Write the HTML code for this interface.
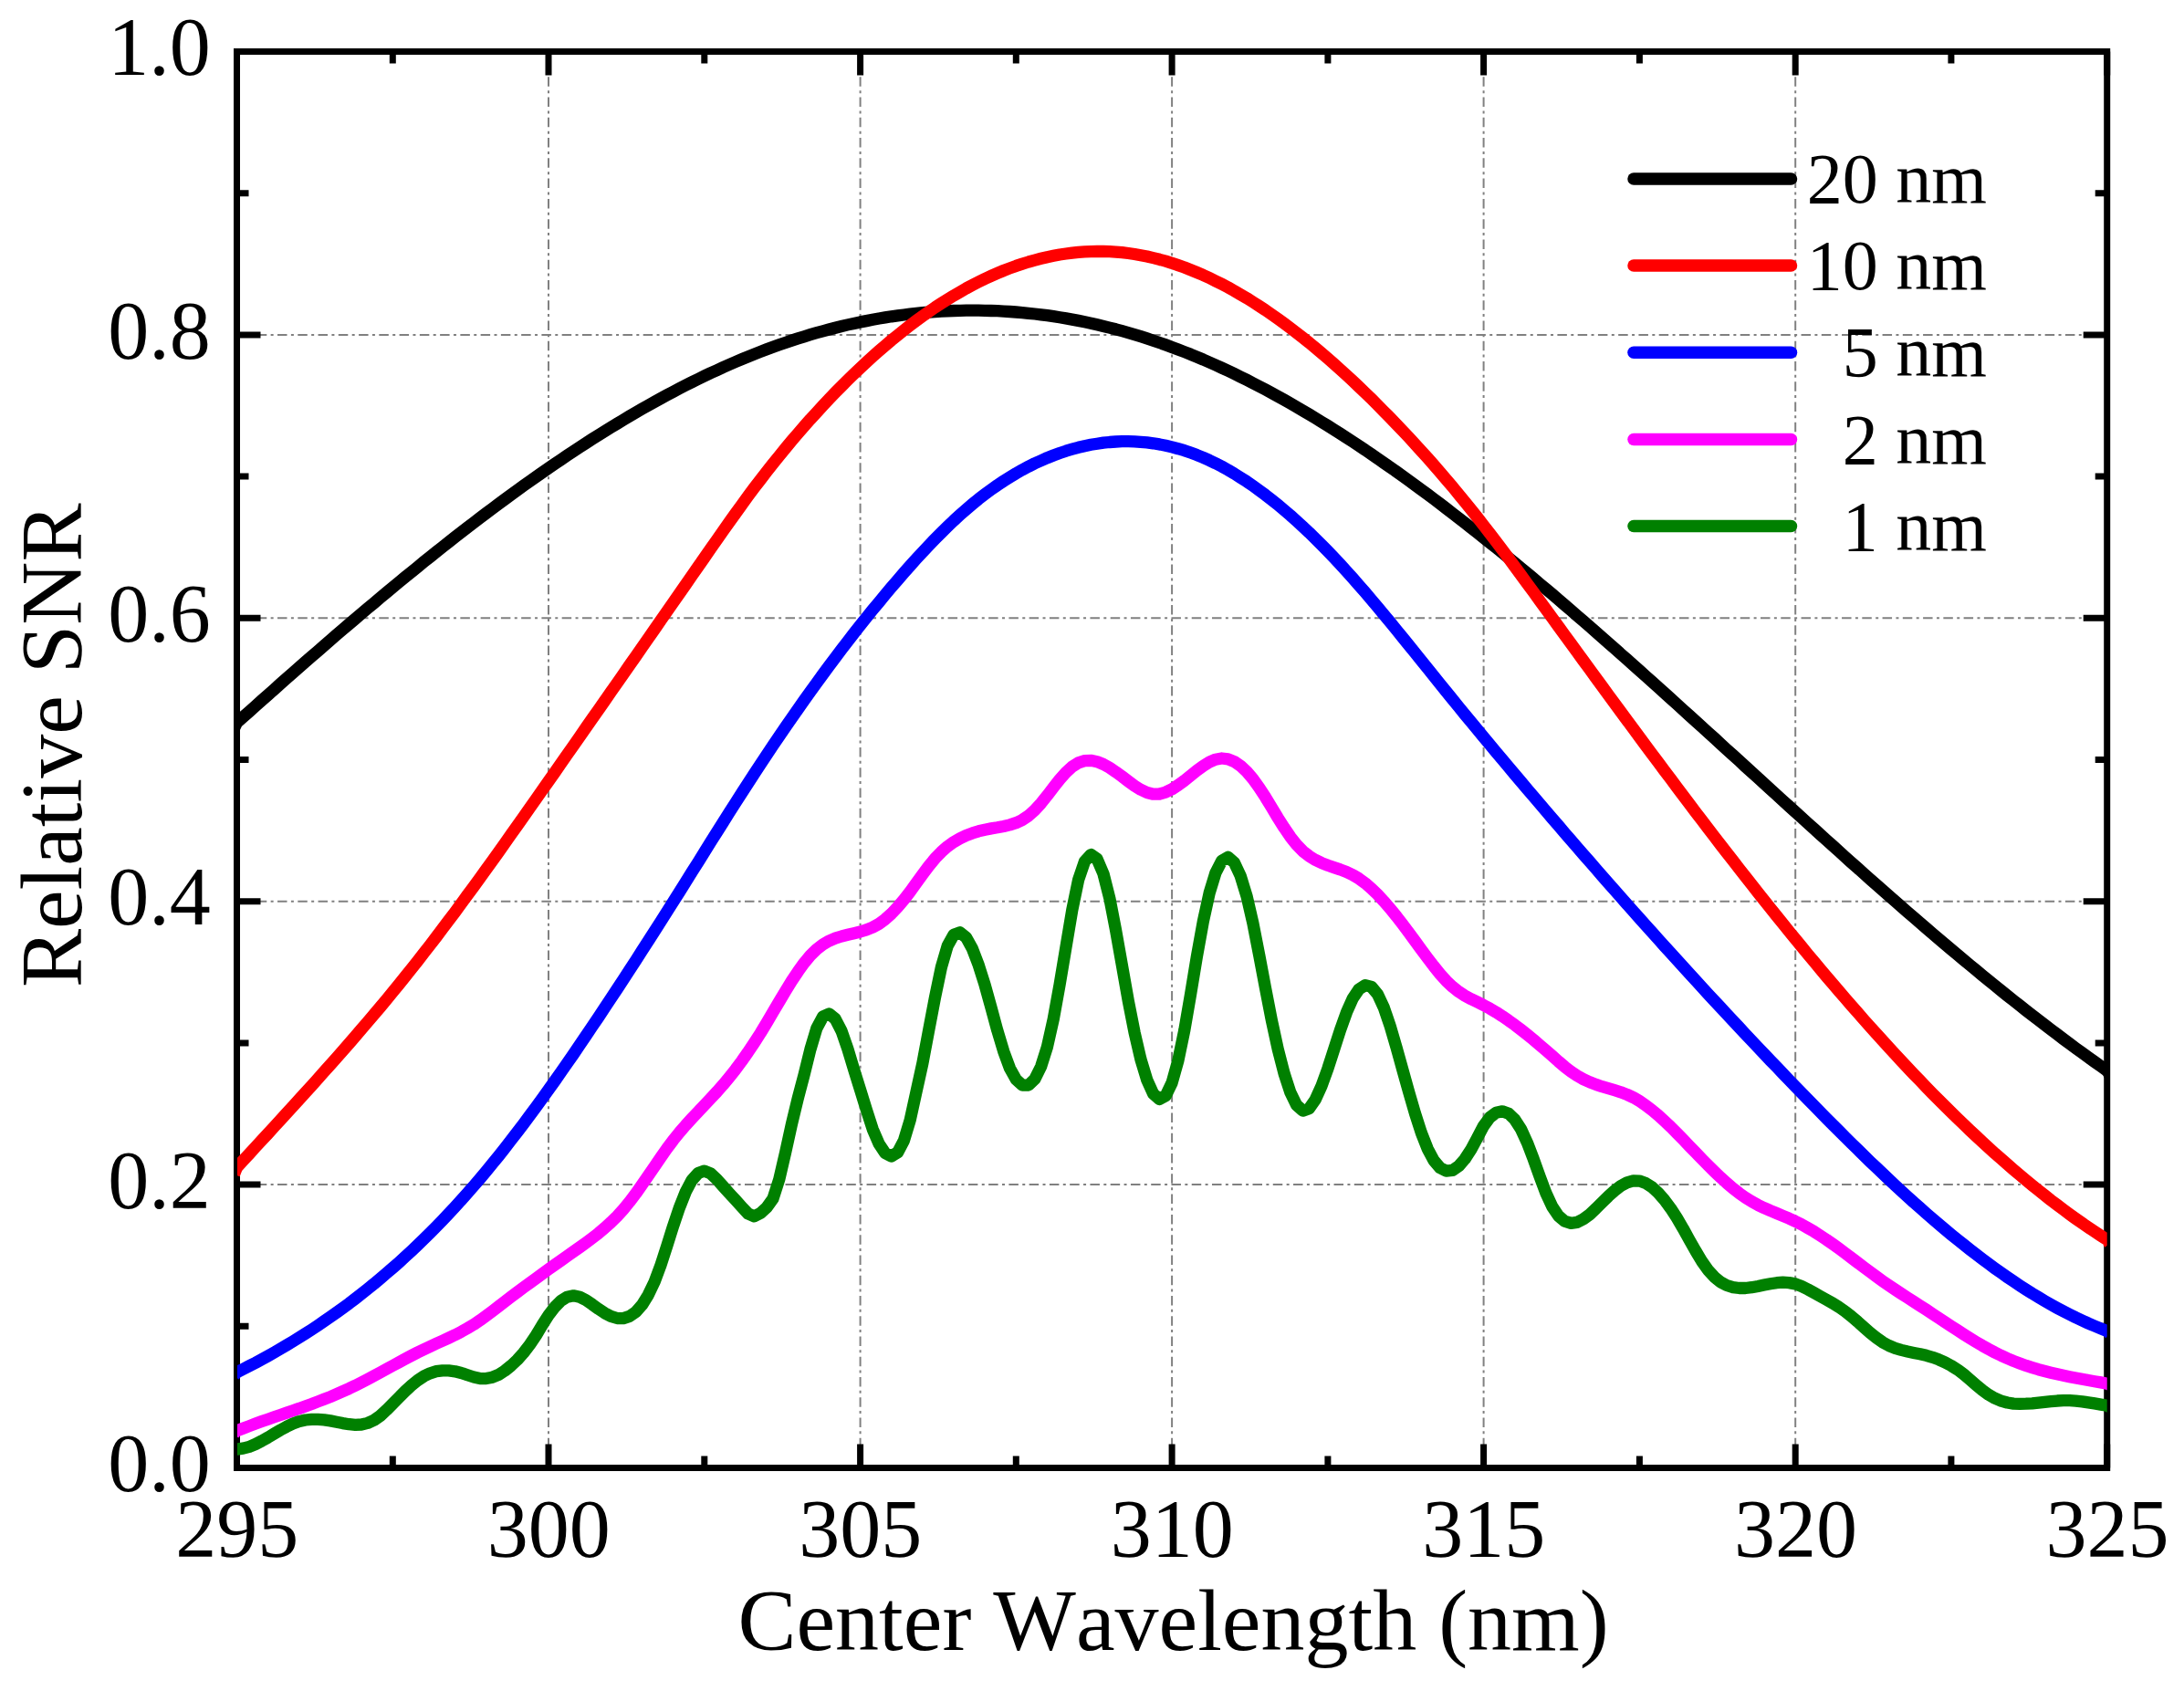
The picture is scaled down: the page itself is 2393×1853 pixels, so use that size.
<!DOCTYPE html>
<html lang="en"><head><meta charset="utf-8"><title>Relative SNR vs Center Wavelength</title>
<style>
html,body{margin:0;padding:0;background:#fff;}
body{width:2393px;height:1853px;overflow:hidden;}
svg{display:block;}
text{font-family:"Liberation Serif","Times New Roman",serif;fill:#000;}
.tk{font-size:90px;}
.ti{font-size:96px;font-kerning:none;}
.lg{font-size:78px;}
</style></head><body>
<svg width="2393" height="1853" viewBox="0 0 2393 1853">
<rect x="0" y="0" width="2393" height="1853" fill="#ffffff"/>

<g stroke="#808080" stroke-width="2" fill="none" stroke-dasharray="10.5 4.38 3 4.38">
<path d="M259.5 1298.1 H2308.7"/>
<path d="M259.5 987.7 H2308.7"/>
<path d="M259.5 677.3 H2308.7"/>
<path d="M259.5 366.9 H2308.7"/>
<path d="M601.0 1608.5 V56.5"/>
<path d="M942.6 1608.5 V56.5"/>
<path d="M1284.1 1608.5 V56.5"/>
<path d="M1625.6 1608.5 V56.5"/>
<path d="M1967.2 1608.5 V56.5"/>
</g>
<g stroke="#000" stroke-width="7.0" fill="none" stroke-linecap="butt">
<rect x="259.5" y="56.5" width="2049.2" height="1552.0"/>
<path d="M259.5 1608.5 v-26 M259.5 56.5 v26 M601.0 1608.5 v-26 M601.0 56.5 v26 M942.6 1608.5 v-26 M942.6 56.5 v26 M1284.1 1608.5 v-26 M1284.1 56.5 v26 M1625.6 1608.5 v-26 M1625.6 56.5 v26 M1967.2 1608.5 v-26 M1967.2 56.5 v26 M2308.7 1608.5 v-26 M2308.7 56.5 v26 M430.3 1608.5 v-13 M430.3 56.5 v13 M771.8 1608.5 v-13 M771.8 56.5 v13 M1113.3 1608.5 v-13 M1113.3 56.5 v13 M1454.9 1608.5 v-13 M1454.9 56.5 v13 M1796.4 1608.5 v-13 M1796.4 56.5 v13 M2137.9 1608.5 v-13 M2137.9 56.5 v13 M259.5 1608.5 h26 M2308.7 1608.5 h-26 M259.5 1453.3 h13 M2308.7 1453.3 h-13 M259.5 1298.1 h26 M2308.7 1298.1 h-26 M259.5 1142.9 h13 M2308.7 1142.9 h-13 M259.5 987.7 h26 M2308.7 987.7 h-26 M259.5 832.5 h13 M2308.7 832.5 h-13 M259.5 677.3 h26 M2308.7 677.3 h-26 M259.5 522.1 h13 M2308.7 522.1 h-13 M259.5 366.9 h26 M2308.7 366.9 h-26 M259.5 211.7 h13 M2308.7 211.7 h-13 M259.5 56.5 h26 M2308.7 56.5 h-26"/>
</g>
<defs><clipPath id="cp"><rect x="260.0" y="0" width="2048.7" height="1853"/></clipPath></defs>
<g clip-path="url(#cp)" fill="none" stroke-width="13.3" stroke-linejoin="round" stroke-linecap="butt">
<path stroke="#000000" d="M256.5 798.0 L259.5 791.9 L266.3 785.8 L273.2 779.7 L280.0 773.6 L286.8 767.5 L293.7 761.4 L300.5 755.4 L307.3 749.3 L314.1 743.3 L321.0 737.3 L327.8 731.3 L334.6 725.3 L341.5 719.3 L348.3 713.4 L355.1 707.4 L362.0 701.5 L368.8 695.6 L375.6 689.8 L382.5 683.9 L389.3 678.1 L396.1 672.3 L402.9 666.5 L409.8 660.8 L416.6 655.0 L423.4 649.3 L430.3 643.7 L437.1 638.0 L443.9 632.4 L450.8 626.8 L457.6 621.3 L464.4 615.7 L471.3 610.2 L478.1 604.8 L484.9 599.4 L491.7 594.0 L498.6 588.6 L505.4 583.3 L512.2 578.0 L519.1 572.8 L525.9 567.5 L532.7 562.4 L539.6 557.2 L546.4 552.2 L553.2 547.1 L560.0 542.1 L566.9 537.1 L573.7 532.2 L580.5 527.3 L587.4 522.5 L594.2 517.7 L601.0 513.0 L607.9 508.3 L614.7 503.7 L621.5 499.1 L628.4 494.5 L635.2 490.0 L642.0 485.6 L648.8 481.2 L655.7 476.9 L662.5 472.6 L669.3 468.4 L676.2 464.2 L683.0 460.1 L689.8 456.0 L696.7 452.0 L703.5 448.1 L710.3 444.2 L717.2 440.4 L724.0 436.6 L730.8 432.9 L737.6 429.3 L744.5 425.7 L751.3 422.2 L758.1 418.8 L765.0 415.4 L771.8 412.1 L778.6 408.8 L785.5 405.7 L792.3 402.5 L799.1 399.5 L806.0 396.5 L812.8 393.6 L819.6 390.8 L826.4 388.1 L833.3 385.4 L840.1 382.8 L846.9 380.3 L853.8 377.8 L860.6 375.4 L867.4 373.1 L874.3 370.9 L881.1 368.8 L887.9 366.7 L894.8 364.7 L901.6 362.8 L908.4 361.0 L915.2 359.2 L922.1 357.5 L928.9 355.9 L935.7 354.4 L942.6 352.9 L949.4 351.6 L956.2 350.3 L963.1 349.0 L969.9 347.9 L976.7 346.8 L983.6 345.9 L990.4 345.0 L997.2 344.1 L1004.0 343.4 L1010.9 342.7 L1017.7 342.1 L1024.5 341.6 L1031.4 341.2 L1038.2 340.8 L1045.0 340.5 L1051.9 340.3 L1058.7 340.2 L1065.5 340.1 L1072.3 340.2 L1079.2 340.3 L1086.0 340.5 L1092.8 340.7 L1099.7 341.1 L1106.5 341.5 L1113.3 342.0 L1120.2 342.6 L1127.0 343.3 L1133.8 344.0 L1140.7 344.8 L1147.5 345.7 L1154.3 346.7 L1161.1 347.8 L1168.0 348.9 L1174.8 350.1 L1181.6 351.4 L1188.5 352.8 L1195.3 354.2 L1202.1 355.8 L1209.0 357.4 L1215.8 359.1 L1222.6 360.8 L1229.5 362.7 L1236.3 364.6 L1243.1 366.6 L1249.9 368.7 L1256.8 370.9 L1263.6 373.2 L1270.4 375.5 L1277.3 377.9 L1284.1 380.4 L1290.9 383.0 L1297.8 385.6 L1304.6 388.3 L1311.4 391.2 L1318.3 394.0 L1325.1 397.0 L1331.9 400.0 L1338.7 403.1 L1345.6 406.3 L1352.4 409.6 L1359.2 412.9 L1366.1 416.3 L1372.9 419.8 L1379.7 423.3 L1386.6 426.9 L1393.4 430.6 L1400.2 434.3 L1407.1 438.1 L1413.9 442.0 L1420.7 445.9 L1427.5 449.9 L1434.4 454.0 L1441.2 458.1 L1448.0 462.3 L1454.9 466.5 L1461.7 470.8 L1468.5 475.2 L1475.4 479.6 L1482.2 484.0 L1489.0 488.6 L1495.9 493.1 L1502.7 497.8 L1509.5 502.4 L1516.3 507.2 L1523.2 512.0 L1530.0 516.8 L1536.8 521.7 L1543.7 526.6 L1550.5 531.6 L1557.3 536.6 L1564.2 541.7 L1571.0 546.8 L1577.8 551.9 L1584.6 557.1 L1591.5 562.4 L1598.3 567.7 L1605.1 573.0 L1612.0 578.4 L1618.8 583.8 L1625.6 589.2 L1632.5 594.7 L1639.3 600.2 L1646.1 605.7 L1653.0 611.3 L1659.8 616.9 L1666.6 622.6 L1673.4 628.2 L1680.3 633.9 L1687.1 639.7 L1693.9 645.4 L1700.8 651.2 L1707.6 657.1 L1714.4 662.9 L1721.3 668.8 L1728.1 674.7 L1734.9 680.6 L1741.8 686.5 L1748.6 692.5 L1755.4 698.5 L1762.2 704.5 L1769.1 710.5 L1775.9 716.6 L1782.7 722.6 L1789.6 728.7 L1796.4 734.8 L1803.2 740.9 L1810.1 747.0 L1816.9 753.2 L1823.7 759.3 L1830.6 765.5 L1837.4 771.6 L1844.2 777.8 L1851.0 784.0 L1857.9 790.2 L1864.7 796.4 L1871.5 802.6 L1878.4 808.8 L1885.2 815.1 L1892.0 821.3 L1898.9 827.5 L1905.7 833.7 L1912.5 840.0 L1919.4 846.2 L1926.2 852.4 L1933.0 858.7 L1939.8 864.9 L1946.7 871.1 L1953.5 877.3 L1960.3 883.5 L1967.2 889.7 L1974.0 895.9 L1980.8 902.1 L1987.7 908.3 L1994.5 914.5 L2001.3 920.6 L2008.2 926.8 L2015.0 932.9 L2021.8 939.1 L2028.6 945.2 L2035.5 951.3 L2042.3 957.4 L2049.1 963.4 L2056.0 969.5 L2062.8 975.5 L2069.6 981.5 L2076.5 987.5 L2083.3 993.5 L2090.1 999.4 L2096.9 1005.3 L2103.8 1011.3 L2110.6 1017.1 L2117.4 1023.0 L2124.3 1028.8 L2131.1 1034.6 L2137.9 1040.4 L2144.8 1046.1 L2151.6 1051.8 L2158.4 1057.5 L2165.3 1063.2 L2172.1 1068.8 L2178.9 1074.4 L2185.7 1079.9 L2192.6 1085.5 L2199.4 1091.0 L2206.2 1096.4 L2213.1 1101.8 L2219.9 1107.2 L2226.7 1112.5 L2233.6 1117.8 L2240.4 1123.1 L2247.2 1128.3 L2254.1 1133.4 L2260.9 1138.6 L2267.7 1143.6 L2274.5 1148.7 L2281.4 1153.7 L2288.2 1158.6 L2295.0 1163.5 L2301.9 1168.4 L2308.7 1173.2 L2311.7 1177.9"/>
<path stroke="#ff0000" d="M256.5 1286.8 L259.5 1279.3 L266.3 1271.8 L273.2 1264.4 L280.0 1256.9 L286.8 1249.5 L293.7 1242.1 L300.5 1234.6 L307.3 1227.2 L314.1 1219.7 L321.0 1212.2 L327.8 1204.7 L334.6 1197.2 L341.5 1189.7 L348.3 1182.1 L355.1 1174.4 L362.0 1166.8 L368.8 1159.1 L375.6 1151.3 L382.5 1143.5 L389.3 1135.6 L396.1 1127.7 L402.9 1119.7 L409.8 1111.7 L416.6 1103.6 L423.4 1095.4 L430.3 1087.1 L437.1 1078.7 L443.9 1070.3 L450.8 1061.7 L457.6 1053.1 L464.4 1044.3 L471.3 1035.5 L478.1 1026.6 L484.9 1017.6 L491.7 1008.5 L498.6 999.4 L505.4 990.1 L512.2 980.8 L519.1 971.5 L525.9 962.1 L532.7 952.6 L539.6 943.1 L546.4 933.6 L553.2 924.0 L560.0 914.3 L566.9 904.7 L573.7 895.0 L580.5 885.3 L587.4 875.5 L594.2 865.8 L601.0 856.1 L607.9 846.3 L614.7 836.5 L621.5 826.8 L628.4 817.0 L635.2 807.2 L642.0 797.4 L648.8 787.6 L655.7 777.9 L662.5 768.1 L669.3 758.3 L676.2 748.5 L683.0 738.7 L689.8 728.9 L696.7 719.1 L703.5 709.3 L710.3 699.5 L717.2 689.6 L724.0 679.8 L730.8 670.0 L737.6 660.2 L744.5 650.4 L751.3 640.6 L758.1 630.8 L765.0 620.9 L771.8 611.1 L778.6 601.3 L785.5 591.5 L792.3 581.8 L799.1 572.1 L806.0 562.5 L812.8 553.1 L819.6 543.7 L826.4 534.6 L833.3 525.6 L840.1 516.7 L846.9 508.1 L853.8 499.6 L860.6 491.2 L867.4 483.0 L874.3 475.0 L881.1 467.2 L887.9 459.4 L894.8 451.9 L901.6 444.5 L908.4 437.2 L915.2 430.1 L922.1 423.2 L928.9 416.4 L935.7 409.8 L942.6 403.2 L949.4 396.9 L956.2 390.7 L963.1 384.6 L969.9 378.7 L976.7 372.9 L983.6 367.3 L990.4 361.8 L997.2 356.5 L1004.0 351.4 L1010.9 346.4 L1017.7 341.6 L1024.5 336.9 L1031.4 332.4 L1038.2 328.1 L1045.0 323.9 L1051.9 319.9 L1058.7 316.0 L1065.5 312.4 L1072.3 308.9 L1079.2 305.5 L1086.0 302.4 L1092.8 299.4 L1099.7 296.5 L1106.5 293.9 L1113.3 291.4 L1120.2 289.1 L1127.0 287.0 L1133.8 285.1 L1140.7 283.3 L1147.5 281.7 L1154.3 280.3 L1161.1 279.0 L1168.0 278.0 L1174.8 277.1 L1181.6 276.4 L1188.5 275.9 L1195.3 275.6 L1202.1 275.4 L1209.0 275.5 L1215.8 275.7 L1222.6 276.1 L1229.5 276.7 L1236.3 277.5 L1243.1 278.5 L1249.9 279.7 L1256.8 281.0 L1263.6 282.6 L1270.4 284.3 L1277.3 286.2 L1284.1 288.3 L1290.9 290.6 L1297.8 293.0 L1304.6 295.7 L1311.4 298.5 L1318.3 301.4 L1325.1 304.6 L1331.9 307.9 L1338.7 311.3 L1345.6 314.9 L1352.4 318.7 L1359.2 322.7 L1366.1 326.7 L1372.9 331.0 L1379.7 335.4 L1386.6 339.9 L1393.4 344.6 L1400.2 349.4 L1407.1 354.4 L1413.9 359.5 L1420.7 364.7 L1427.5 370.0 L1434.4 375.5 L1441.2 381.2 L1448.0 386.9 L1454.9 392.8 L1461.7 398.8 L1468.5 404.9 L1475.4 411.1 L1482.2 417.4 L1489.0 423.9 L1495.9 430.5 L1502.7 437.1 L1509.5 443.9 L1516.3 450.8 L1523.2 457.7 L1530.0 464.8 L1536.8 472.0 L1543.7 479.3 L1550.5 486.7 L1557.3 494.2 L1564.2 501.8 L1571.0 509.5 L1577.8 517.4 L1584.6 525.4 L1591.5 533.4 L1598.3 541.7 L1605.1 550.0 L1612.0 558.5 L1618.8 567.0 L1625.6 575.8 L1632.5 584.6 L1639.3 593.6 L1646.1 602.6 L1653.0 611.8 L1659.8 621.0 L1666.6 630.3 L1673.4 639.6 L1680.3 648.9 L1687.1 658.3 L1693.9 667.7 L1700.8 677.1 L1707.6 686.5 L1714.4 695.9 L1721.3 705.2 L1728.1 714.6 L1734.9 724.0 L1741.8 733.4 L1748.6 742.7 L1755.4 752.0 L1762.2 761.4 L1769.1 770.7 L1775.9 780.0 L1782.7 789.3 L1789.6 798.5 L1796.4 807.8 L1803.2 817.0 L1810.1 826.2 L1816.9 835.3 L1823.7 844.5 L1830.6 853.6 L1837.4 862.7 L1844.2 871.8 L1851.0 880.8 L1857.9 889.9 L1864.7 898.8 L1871.5 907.8 L1878.4 916.7 L1885.2 925.6 L1892.0 934.4 L1898.9 943.2 L1905.7 952.0 L1912.5 960.7 L1919.4 969.4 L1926.2 978.1 L1933.0 986.7 L1939.8 995.2 L1946.7 1003.7 L1953.5 1012.2 L1960.3 1020.6 L1967.2 1029.0 L1974.0 1037.3 L1980.8 1045.6 L1987.7 1053.8 L1994.5 1062.0 L2001.3 1070.1 L2008.2 1078.1 L2015.0 1086.1 L2021.8 1094.0 L2028.6 1101.9 L2035.5 1109.7 L2042.3 1117.5 L2049.1 1125.2 L2056.0 1132.8 L2062.8 1140.3 L2069.6 1147.8 L2076.5 1155.3 L2083.3 1162.6 L2090.1 1169.9 L2096.9 1177.1 L2103.8 1184.2 L2110.6 1191.3 L2117.4 1198.3 L2124.3 1205.2 L2131.1 1212.0 L2137.9 1218.8 L2144.8 1225.5 L2151.6 1232.1 L2158.4 1238.6 L2165.3 1245.0 L2172.1 1251.3 L2178.9 1257.6 L2185.7 1263.8 L2192.6 1269.8 L2199.4 1275.8 L2206.2 1281.7 L2213.1 1287.5 L2219.9 1293.3 L2226.7 1298.9 L2233.6 1304.4 L2240.4 1309.8 L2247.2 1315.2 L2254.1 1320.4 L2260.9 1325.5 L2267.7 1330.6 L2274.5 1335.5 L2281.4 1340.3 L2288.2 1345.0 L2295.0 1349.6 L2301.9 1354.1 L2308.7 1358.5 L2311.7 1362.9"/>
<path stroke="#0000ff" d="M256.5 1507.2 L259.5 1503.8 L266.3 1500.3 L273.2 1496.8 L280.0 1493.3 L286.8 1489.6 L293.7 1485.8 L300.5 1482.0 L307.3 1478.1 L314.1 1474.0 L321.0 1469.9 L327.8 1465.7 L334.6 1461.4 L341.5 1457.0 L348.3 1452.5 L355.1 1447.8 L362.0 1443.1 L368.8 1438.3 L375.6 1433.3 L382.5 1428.3 L389.3 1423.1 L396.1 1417.8 L402.9 1412.3 L409.8 1406.8 L416.6 1401.1 L423.4 1395.3 L430.3 1389.4 L437.1 1383.4 L443.9 1377.2 L450.8 1370.8 L457.6 1364.4 L464.4 1357.8 L471.3 1351.0 L478.1 1344.1 L484.9 1337.1 L491.7 1329.9 L498.6 1322.5 L505.4 1315.0 L512.2 1307.4 L519.1 1299.5 L525.9 1291.6 L532.7 1283.4 L539.6 1275.1 L546.4 1266.7 L553.2 1258.1 L560.0 1249.3 L566.9 1240.4 L573.7 1231.4 L580.5 1222.2 L587.4 1213.0 L594.2 1203.6 L601.0 1194.1 L607.9 1184.5 L614.7 1174.8 L621.5 1165.0 L628.4 1155.1 L635.2 1145.1 L642.0 1135.0 L648.8 1124.9 L655.7 1114.7 L662.5 1104.4 L669.3 1094.1 L676.2 1083.7 L683.0 1073.3 L689.8 1062.8 L696.7 1052.3 L703.5 1041.7 L710.3 1031.1 L717.2 1020.4 L724.0 1009.7 L730.8 999.0 L737.6 988.2 L744.5 977.4 L751.3 966.5 L758.1 955.6 L765.0 944.7 L771.8 933.7 L778.6 922.8 L785.5 911.9 L792.3 901.1 L799.1 890.3 L806.0 879.5 L812.8 868.9 L819.6 858.3 L826.4 847.8 L833.3 837.4 L840.1 827.1 L846.9 816.9 L853.8 806.8 L860.6 796.8 L867.4 786.9 L874.3 777.1 L881.1 767.4 L887.9 757.9 L894.8 748.4 L901.6 739.0 L908.4 729.8 L915.2 720.7 L922.1 711.6 L928.9 702.7 L935.7 693.9 L942.6 685.2 L949.4 676.7 L956.2 668.2 L963.1 659.9 L969.9 651.6 L976.7 643.5 L983.6 635.6 L990.4 627.7 L997.2 620.0 L1004.0 612.4 L1010.9 605.0 L1017.7 597.7 L1024.5 590.6 L1031.4 583.7 L1038.2 577.0 L1045.0 570.5 L1051.9 564.2 L1058.7 558.2 L1065.5 552.4 L1072.3 546.8 L1079.2 541.5 L1086.0 536.5 L1092.8 531.7 L1099.7 527.1 L1106.5 522.8 L1113.3 518.7 L1120.2 514.8 L1127.0 511.2 L1133.8 507.8 L1140.7 504.7 L1147.5 501.7 L1154.3 499.0 L1161.1 496.5 L1168.0 494.2 L1174.8 492.2 L1181.6 490.3 L1188.5 488.7 L1195.3 487.3 L1202.1 486.2 L1209.0 485.2 L1215.8 484.5 L1222.6 484.0 L1229.5 483.7 L1236.3 483.7 L1243.1 483.8 L1249.9 484.3 L1256.8 484.9 L1263.6 485.8 L1270.4 486.9 L1277.3 488.3 L1284.1 489.9 L1290.9 491.7 L1297.8 493.7 L1304.6 496.1 L1311.4 498.6 L1318.3 501.4 L1325.1 504.4 L1331.9 507.7 L1338.7 511.2 L1345.6 515.0 L1352.4 519.0 L1359.2 523.3 L1366.1 527.7 L1372.9 532.4 L1379.7 537.3 L1386.6 542.4 L1393.4 547.7 L1400.2 553.2 L1407.1 559.0 L1413.9 564.8 L1420.7 570.9 L1427.5 577.2 L1434.4 583.6 L1441.2 590.2 L1448.0 597.0 L1454.9 604.0 L1461.7 611.1 L1468.5 618.4 L1475.4 625.9 L1482.2 633.5 L1489.0 641.3 L1495.9 649.2 L1502.7 657.2 L1509.5 665.3 L1516.3 673.5 L1523.2 681.8 L1530.0 690.1 L1536.8 698.5 L1543.7 707.0 L1550.5 715.4 L1557.3 723.9 L1564.2 732.4 L1571.0 740.9 L1577.8 749.4 L1584.6 757.8 L1591.5 766.3 L1598.3 774.6 L1605.1 783.0 L1612.0 791.3 L1618.8 799.5 L1625.6 807.8 L1632.5 816.0 L1639.3 824.2 L1646.1 832.3 L1653.0 840.5 L1659.8 848.6 L1666.6 856.6 L1673.4 864.7 L1680.3 872.8 L1687.1 880.8 L1693.9 888.8 L1700.8 896.8 L1707.6 904.7 L1714.4 912.7 L1721.3 920.6 L1728.1 928.5 L1734.9 936.3 L1741.8 944.2 L1748.6 952.0 L1755.4 959.8 L1762.2 967.6 L1769.1 975.4 L1775.9 983.1 L1782.7 990.9 L1789.6 998.6 L1796.4 1006.2 L1803.2 1013.9 L1810.1 1021.5 L1816.9 1029.1 L1823.7 1036.7 L1830.6 1044.3 L1837.4 1051.8 L1844.2 1059.3 L1851.0 1066.8 L1857.9 1074.3 L1864.7 1081.7 L1871.5 1089.2 L1878.4 1096.6 L1885.2 1103.9 L1892.0 1111.3 L1898.9 1118.6 L1905.7 1125.9 L1912.5 1133.2 L1919.4 1140.5 L1926.2 1147.7 L1933.0 1154.9 L1939.8 1162.1 L1946.7 1169.2 L1953.5 1176.4 L1960.3 1183.5 L1967.2 1190.6 L1974.0 1197.6 L1980.8 1204.7 L1987.7 1211.7 L1994.5 1218.6 L2001.3 1225.6 L2008.2 1232.5 L2015.0 1239.3 L2021.8 1246.1 L2028.6 1252.9 L2035.5 1259.6 L2042.3 1266.3 L2049.1 1272.9 L2056.0 1279.4 L2062.8 1285.9 L2069.6 1292.4 L2076.5 1298.8 L2083.3 1305.1 L2090.1 1311.3 L2096.9 1317.5 L2103.8 1323.5 L2110.6 1329.6 L2117.4 1335.5 L2124.3 1341.3 L2131.1 1347.1 L2137.9 1352.8 L2144.8 1358.4 L2151.6 1363.8 L2158.4 1369.2 L2165.3 1374.5 L2172.1 1379.7 L2178.9 1384.8 L2185.7 1389.8 L2192.6 1394.7 L2199.4 1399.5 L2206.2 1404.1 L2213.1 1408.7 L2219.9 1413.1 L2226.7 1417.4 L2233.6 1421.5 L2240.4 1425.6 L2247.2 1429.5 L2254.1 1433.3 L2260.9 1436.9 L2267.7 1440.4 L2274.5 1443.8 L2281.4 1447.0 L2288.2 1450.1 L2295.0 1453.0 L2301.9 1455.8 L2308.7 1458.5 L2311.7 1461.1"/>
<path stroke="#ff00ff" d="M256.5 1570.7 L259.5 1567.9 L266.3 1565.2 L273.2 1562.6 L280.0 1560.1 L286.8 1557.6 L293.7 1555.2 L300.5 1552.8 L307.3 1550.4 L314.1 1548.1 L321.0 1545.7 L327.8 1543.4 L334.6 1540.9 L341.5 1538.5 L348.3 1535.9 L355.1 1533.3 L362.0 1530.6 L368.8 1527.7 L375.6 1524.7 L382.5 1521.6 L389.3 1518.3 L396.1 1514.8 L402.9 1511.3 L409.8 1507.7 L416.6 1504.0 L423.4 1500.2 L430.3 1496.5 L437.1 1492.8 L443.9 1489.1 L450.8 1485.5 L457.6 1482.0 L464.4 1478.7 L471.3 1475.4 L478.1 1472.3 L484.9 1469.2 L491.7 1466.1 L498.6 1462.8 L505.4 1459.3 L512.2 1455.5 L519.1 1451.4 L525.9 1446.8 L532.7 1441.9 L539.6 1436.7 L546.4 1431.4 L553.2 1426.2 L560.0 1421.0 L566.9 1415.9 L573.7 1410.8 L580.5 1405.8 L587.4 1400.8 L594.2 1395.8 L601.0 1390.9 L607.9 1386.0 L614.7 1381.2 L621.5 1376.3 L628.4 1371.5 L635.2 1366.7 L642.0 1361.8 L648.8 1356.7 L655.7 1351.4 L662.5 1345.7 L669.3 1339.5 L676.2 1332.7 L683.0 1325.2 L689.8 1316.9 L696.7 1307.8 L703.5 1298.2 L710.3 1288.2 L717.2 1278.2 L724.0 1268.2 L730.8 1258.5 L737.6 1249.4 L744.5 1240.9 L751.3 1233.0 L758.1 1225.5 L765.0 1218.2 L771.8 1211.0 L778.6 1203.8 L785.5 1196.4 L792.3 1188.7 L799.1 1180.5 L806.0 1171.8 L812.8 1162.6 L819.6 1152.9 L826.4 1142.7 L833.3 1132.0 L840.1 1120.8 L846.9 1109.2 L853.8 1097.5 L860.6 1086.1 L867.4 1075.0 L874.3 1064.7 L881.1 1055.2 L887.9 1047.0 L894.8 1040.2 L901.6 1035.0 L908.4 1031.1 L915.2 1028.2 L922.1 1026.0 L928.9 1024.3 L935.7 1022.7 L942.6 1021.0 L949.4 1018.9 L956.2 1016.1 L963.1 1012.3 L969.9 1007.3 L976.7 1001.2 L983.6 993.9 L990.4 985.9 L997.2 977.1 L1004.0 967.7 L1010.9 958.2 L1017.7 949.0 L1024.5 940.7 L1031.4 933.6 L1038.2 927.6 L1045.0 922.7 L1051.9 918.7 L1058.7 915.4 L1065.5 912.9 L1072.3 910.8 L1079.2 909.2 L1086.0 907.9 L1092.8 906.8 L1099.7 905.5 L1106.5 903.9 L1113.3 901.7 L1120.2 898.4 L1127.0 893.9 L1133.8 887.8 L1140.7 880.2 L1147.5 871.7 L1154.3 862.8 L1161.1 854.1 L1168.0 846.3 L1174.8 840.1 L1181.6 835.8 L1188.5 833.6 L1195.3 833.3 L1202.1 834.7 L1209.0 837.5 L1215.8 841.3 L1222.6 845.9 L1229.5 850.9 L1236.3 856.1 L1243.1 861.1 L1249.9 865.3 L1256.8 868.5 L1263.6 870.2 L1270.4 870.0 L1277.3 868.1 L1284.1 864.8 L1290.9 860.4 L1297.8 855.3 L1304.6 849.8 L1311.4 844.3 L1318.3 839.3 L1325.1 835.1 L1331.9 832.2 L1338.7 831.0 L1345.6 831.8 L1352.4 834.6 L1359.2 839.2 L1366.1 845.6 L1372.9 853.6 L1379.7 863.1 L1386.6 873.7 L1393.4 884.9 L1400.2 896.2 L1407.1 907.1 L1413.9 917.1 L1420.7 925.7 L1427.5 932.7 L1434.4 938.1 L1441.2 942.3 L1448.0 945.6 L1454.9 948.3 L1461.7 950.6 L1468.5 952.9 L1475.4 955.5 L1482.2 958.7 L1489.0 962.8 L1495.9 967.8 L1502.7 973.7 L1509.5 980.3 L1516.3 987.7 L1523.2 995.6 L1530.0 1004.0 L1536.8 1012.8 L1543.7 1021.9 L1550.5 1031.2 L1557.3 1040.6 L1564.2 1049.9 L1571.0 1058.8 L1577.8 1067.2 L1584.6 1074.8 L1591.5 1081.3 L1598.3 1086.7 L1605.1 1091.1 L1612.0 1094.8 L1618.8 1098.1 L1625.6 1101.5 L1632.5 1105.2 L1639.3 1109.2 L1646.1 1113.6 L1653.0 1118.3 L1659.8 1123.2 L1666.6 1128.4 L1673.4 1133.8 L1680.3 1139.4 L1687.1 1145.2 L1693.9 1151.0 L1700.8 1157.0 L1707.6 1163.1 L1714.4 1168.9 L1721.3 1174.2 L1728.1 1178.8 L1734.9 1182.6 L1741.8 1185.7 L1748.6 1188.4 L1755.4 1190.7 L1762.2 1192.7 L1769.1 1194.7 L1775.9 1196.8 L1782.7 1199.4 L1789.6 1202.6 L1796.4 1206.6 L1803.2 1211.2 L1810.1 1216.5 L1816.9 1222.2 L1823.7 1228.4 L1830.6 1234.9 L1837.4 1241.7 L1844.2 1248.7 L1851.0 1255.8 L1857.9 1262.9 L1864.7 1270.0 L1871.5 1276.9 L1878.4 1283.7 L1885.2 1290.2 L1892.0 1296.4 L1898.9 1302.3 L1905.7 1307.6 L1912.5 1312.4 L1919.4 1316.7 L1926.2 1320.4 L1933.0 1323.7 L1939.8 1326.7 L1946.7 1329.5 L1953.5 1332.3 L1960.3 1335.2 L1967.2 1338.4 L1974.0 1341.8 L1980.8 1345.6 L1987.7 1349.6 L1994.5 1354.0 L2001.3 1358.5 L2008.2 1363.3 L2015.0 1368.2 L2021.8 1373.3 L2028.6 1378.4 L2035.5 1383.6 L2042.3 1388.7 L2049.1 1393.8 L2056.0 1398.9 L2062.8 1403.8 L2069.6 1408.5 L2076.5 1413.1 L2083.3 1417.6 L2090.1 1422.0 L2096.9 1426.4 L2103.8 1430.8 L2110.6 1435.2 L2117.4 1439.7 L2124.3 1444.2 L2131.1 1448.8 L2137.9 1453.3 L2144.8 1457.7 L2151.6 1462.1 L2158.4 1466.4 L2165.3 1470.6 L2172.1 1474.6 L2178.9 1478.4 L2185.7 1482.0 L2192.6 1485.4 L2199.4 1488.5 L2206.2 1491.4 L2213.1 1494.0 L2219.9 1496.4 L2226.7 1498.6 L2233.6 1500.7 L2240.4 1502.5 L2247.2 1504.2 L2254.1 1505.8 L2260.9 1507.3 L2267.7 1508.7 L2274.5 1510.0 L2281.4 1511.3 L2288.2 1512.5 L2295.0 1513.7 L2301.9 1514.9 L2308.7 1516.1 L2311.7 1517.3"/>
<path stroke="#008000" d="M256.5 1588.9 L259.5 1588.1 L266.3 1587.2 L273.2 1585.3 L280.0 1582.5 L286.8 1579.0 L293.7 1575.1 L300.5 1571.0 L307.3 1567.0 L314.1 1563.3 L321.0 1560.0 L327.8 1557.6 L334.6 1556.0 L341.5 1555.3 L348.3 1555.4 L355.1 1555.9 L362.0 1556.9 L368.8 1558.2 L375.6 1559.6 L382.5 1560.7 L389.3 1561.3 L396.1 1561.0 L402.9 1559.4 L409.8 1556.3 L416.6 1551.5 L423.4 1545.2 L430.3 1538.3 L437.1 1531.3 L443.9 1524.5 L450.8 1518.2 L457.6 1512.6 L464.4 1508.1 L471.3 1504.8 L478.1 1502.7 L484.9 1501.8 L491.7 1501.9 L498.6 1502.8 L505.4 1504.5 L512.2 1506.8 L519.1 1509.0 L525.9 1510.5 L532.7 1510.6 L539.6 1509.2 L546.4 1506.3 L553.2 1502.0 L560.0 1496.5 L566.9 1490.0 L573.7 1482.4 L580.5 1473.5 L587.4 1463.2 L594.2 1451.9 L601.0 1441.2 L607.9 1432.2 L614.7 1425.4 L621.5 1421.2 L628.4 1419.8 L635.2 1421.2 L642.0 1424.6 L648.8 1429.3 L655.7 1434.3 L662.5 1438.8 L669.3 1442.4 L676.2 1444.5 L683.0 1444.6 L689.8 1442.4 L696.7 1437.6 L703.5 1429.9 L710.3 1418.9 L717.2 1404.5 L724.0 1386.2 L730.8 1365.3 L737.6 1343.6 L744.5 1323.2 L751.3 1306.0 L758.1 1293.2 L765.0 1285.5 L771.8 1283.1 L778.6 1285.9 L785.5 1292.3 L792.3 1300.0 L799.1 1307.6 L806.0 1315.1 L812.8 1322.6 L819.6 1329.9 L826.4 1332.8 L833.3 1329.4 L840.1 1323.2 L846.9 1313.7 L853.8 1292.2 L860.6 1262.9 L867.4 1232.0 L874.3 1203.4 L881.1 1177.6 L887.9 1150.0 L894.8 1126.9 L901.6 1114.1 L908.4 1110.9 L915.2 1116.5 L922.1 1129.9 L928.9 1149.5 L935.7 1172.1 L942.6 1194.2 L949.4 1216.3 L956.2 1237.3 L963.1 1253.3 L969.9 1263.6 L976.7 1267.0 L983.6 1262.8 L990.4 1249.9 L997.2 1227.4 L1004.0 1196.4 L1010.9 1165.0 L1017.7 1128.8 L1024.5 1093.0 L1031.4 1059.9 L1038.2 1036.5 L1045.0 1024.3 L1051.9 1021.8 L1058.7 1027.4 L1065.5 1039.8 L1072.3 1057.7 L1079.2 1079.6 L1086.0 1104.1 L1092.8 1129.2 L1099.7 1152.2 L1106.5 1170.6 L1113.3 1182.9 L1120.2 1189.1 L1127.0 1189.0 L1133.8 1182.5 L1140.7 1168.6 L1147.5 1146.9 L1154.3 1116.5 L1161.1 1078.9 L1168.0 1037.6 L1174.8 997.1 L1181.6 964.2 L1188.5 943.9 L1195.3 936.5 L1202.1 941.3 L1209.0 957.5 L1215.8 984.3 L1222.6 1019.4 L1229.5 1058.3 L1236.3 1096.8 L1243.1 1131.4 L1249.9 1160.7 L1256.8 1183.5 L1263.6 1198.5 L1270.4 1204.5 L1277.3 1200.6 L1284.1 1186.5 L1290.9 1162.1 L1297.8 1128.8 L1304.6 1089.3 L1311.4 1048.2 L1318.3 1009.9 L1325.1 978.8 L1331.9 956.5 L1338.7 943.3 L1345.6 939.4 L1352.4 945.2 L1359.2 959.7 L1366.1 982.2 L1372.9 1011.8 L1379.7 1046.6 L1386.6 1083.2 L1393.4 1118.2 L1400.2 1149.7 L1407.1 1176.4 L1413.9 1197.2 L1420.7 1211.1 L1427.5 1217.1 L1434.4 1214.7 L1441.2 1205.0 L1448.0 1189.9 L1454.9 1170.9 L1461.7 1149.9 L1468.5 1128.7 L1475.4 1109.4 L1482.2 1094.1 L1489.0 1084.0 L1495.9 1079.6 L1502.7 1081.4 L1509.5 1089.5 L1516.3 1104.1 L1523.2 1124.4 L1530.0 1147.6 L1536.8 1172.1 L1543.7 1196.7 L1550.5 1220.1 L1557.3 1241.2 L1564.2 1258.8 L1571.0 1271.6 L1577.8 1279.6 L1584.6 1283.1 L1591.5 1282.4 L1598.3 1277.8 L1605.1 1270.0 L1612.0 1259.4 L1618.8 1246.7 L1625.6 1233.7 L1632.5 1224.4 L1639.3 1219.2 L1646.1 1217.8 L1653.0 1220.3 L1659.8 1226.8 L1666.6 1237.4 L1673.4 1252.2 L1680.3 1270.2 L1687.1 1289.3 L1693.9 1307.4 L1700.8 1322.3 L1707.6 1332.4 L1714.4 1338.2 L1721.3 1340.3 L1728.1 1339.4 L1734.9 1335.9 L1741.8 1330.8 L1748.6 1324.4 L1755.4 1317.6 L1762.2 1310.9 L1769.1 1304.7 L1775.9 1299.5 L1782.7 1295.8 L1789.6 1293.8 L1796.4 1294.1 L1803.2 1296.5 L1810.1 1300.9 L1816.9 1307.1 L1823.7 1314.9 L1830.6 1324.2 L1837.4 1334.7 L1844.2 1346.3 L1851.0 1358.6 L1857.9 1370.8 L1864.7 1382.1 L1871.5 1391.8 L1878.4 1399.3 L1885.2 1404.8 L1892.0 1408.5 L1898.9 1410.6 L1905.7 1411.5 L1912.5 1411.5 L1919.4 1410.7 L1926.2 1409.5 L1933.0 1408.1 L1939.8 1406.8 L1946.7 1405.7 L1953.5 1405.2 L1960.3 1405.6 L1967.2 1406.9 L1974.0 1409.5 L1980.8 1412.9 L1987.7 1416.7 L1994.5 1420.5 L2001.3 1424.3 L2008.2 1428.1 L2015.0 1432.4 L2021.8 1437.1 L2028.6 1442.5 L2035.5 1448.4 L2042.3 1454.5 L2049.1 1460.5 L2056.0 1466.0 L2062.8 1470.8 L2069.6 1474.5 L2076.5 1477.4 L2083.3 1479.4 L2090.1 1481.0 L2096.9 1482.4 L2103.8 1483.7 L2110.6 1485.3 L2117.4 1487.3 L2124.3 1489.8 L2131.1 1492.8 L2137.9 1496.5 L2144.8 1500.8 L2151.6 1505.9 L2158.4 1511.7 L2165.3 1517.7 L2172.1 1523.4 L2178.9 1528.3 L2185.7 1532.2 L2192.6 1535.1 L2199.4 1537.0 L2206.2 1538.1 L2213.1 1538.4 L2219.9 1538.2 L2226.7 1537.8 L2233.6 1537.1 L2240.4 1536.3 L2247.2 1535.6 L2254.1 1535.0 L2260.9 1534.7 L2267.7 1534.7 L2274.5 1535.1 L2281.4 1535.8 L2288.2 1536.8 L2295.0 1537.9 L2301.9 1539.1 L2308.7 1540.3 L2311.7 1541.6"/>
</g>
<text class="tk" x="230.7" y="1634.1" text-anchor="end">0.0</text>
<text class="tk" x="230.7" y="1323.7" text-anchor="end">0.2</text>
<text class="tk" x="230.7" y="1013.3" text-anchor="end">0.4</text>
<text class="tk" x="230.7" y="702.9" text-anchor="end">0.6</text>
<text class="tk" x="230.7" y="392.5" text-anchor="end">0.8</text>
<text class="tk" x="230.7" y="82.1" text-anchor="end">1.0</text>
<text class="tk" x="259.7" y="1705.6" text-anchor="middle">295</text>
<text class="tk" x="601.2" y="1705.6" text-anchor="middle">300</text>
<text class="tk" x="942.8" y="1705.6" text-anchor="middle">305</text>
<text class="tk" x="1284.3" y="1705.6" text-anchor="middle">310</text>
<text class="tk" x="1625.8" y="1705.6" text-anchor="middle">315</text>
<text class="tk" x="1967.4" y="1705.6" text-anchor="middle">320</text>
<text class="tk" x="2308.9" y="1705.6" text-anchor="middle">325</text>
<text class="ti" x="1285.6" y="1808.2" text-anchor="middle">Center Wavelength (nm)</text>
<text class="ti" transform="translate(89.0 816.8) rotate(-90)" text-anchor="middle">Relative SNR</text>
<path d="M1790 196.0 H1962.5" stroke="#000000" stroke-width="13.5" stroke-linecap="round" fill="none"/>
<text class="lg" x="2176.8" y="222.0" text-anchor="end">20 nm</text>
<path d="M1790 291.1 H1962.5" stroke="#ff0000" stroke-width="13.5" stroke-linecap="round" fill="none"/>
<text class="lg" x="2176.8" y="317.1" text-anchor="end">10 nm</text>
<path d="M1790 386.3 H1962.5" stroke="#0000ff" stroke-width="13.5" stroke-linecap="round" fill="none"/>
<text class="lg" x="2176.8" y="412.3" text-anchor="end">5 nm</text>
<path d="M1790 481.5 H1962.5" stroke="#ff00ff" stroke-width="13.5" stroke-linecap="round" fill="none"/>
<text class="lg" x="2176.8" y="507.5" text-anchor="end">2 nm</text>
<path d="M1790 576.6 H1962.5" stroke="#008000" stroke-width="13.5" stroke-linecap="round" fill="none"/>
<text class="lg" x="2176.8" y="602.6" text-anchor="end">1 nm</text>
</svg></body></html>
